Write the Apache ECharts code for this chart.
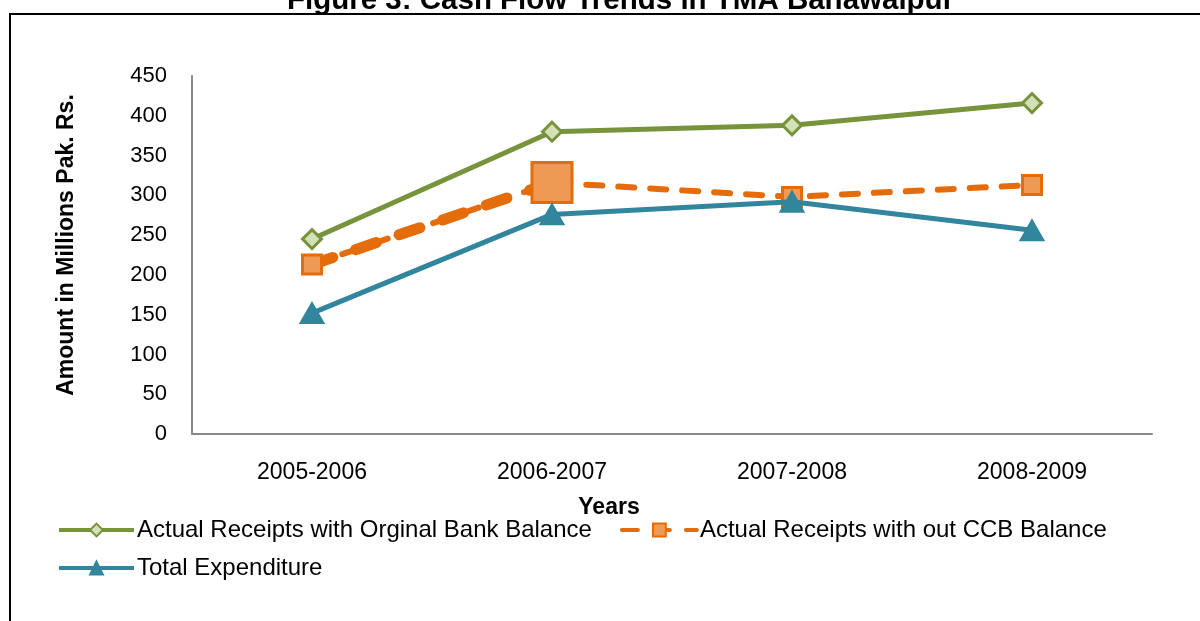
<!DOCTYPE html>
<html>
<head>
<meta charset="utf-8">
<script src="https://cdn.jsdelivr.net/npm/echarts@6/dist/echarts.min.js"></script>
<style>
  html, body { margin: 0; padding: 0; background: #fff; }
  #chart { width: 1200px; height: 621px; }
</style>
</head>
<body>
<div id="chart"></div>
<script>
// data
var years = ['2005-2006', '2006-2007', '2007-2008', '2008-2009'];
var receiptsOriginal = [245, 380, 388, 416];
var receiptsNoCCB = [213, 316, 298, 313];
var totalExpenditure = [152, 276, 292, 256];
var yTicks = [0, 50, 100, 150, 200, 250, 300, 350, 400, 450];

var green = '#77933C', orange = '#E46C0A', blue = '#31859C';
var font = 'Arial, "Liberation Sans", sans-serif';

var chart = echarts.init(document.getElementById('chart'));

// first segment of the dashed series is drawn heavier in the original
var firstSeg = receiptsNoCCB.map(function (v, i) { return i < 2 ? v : null; });

var option = {
  animation: false,
  textStyle: { fontFamily: font },
  title: {
    text: 'Figure 3: Cash Flow Trends in TMA Bahawalpur',
    left: 282,
    top: -19,
    textStyle: { fontSize: 29.5, fontWeight: 'bold', color: '#000', fontFamily: font }
  },
  graphic: [{
    type: 'rect',
    shape: { x: 10, y: 14, width: 1200, height: 620 },
    style: { fill: 'none', stroke: '#000', lineWidth: 2 },
    silent: true
  }],
  grid: { left: 192, right: 48, top: 76, bottom: 187 },
  legend: {
    left: 52,
    top: 510,
    width: 1100,
    itemWidth: 75,
    itemHeight: 16,
    itemGap: 8,
    lineStyle: { width: 4 },
    data: [
      { name: 'Actual Receipts with Orginal Bank Balance' },
      { name: 'Actual Receipts with out CCB Balance' },
      { name: 'Total Expenditure' }
    ],
    textStyle: { fontSize: 24, color: '#000', fontFamily: font, lineHeight: 30, padding: [0, 20, 0, -2] }
  },
  xAxis: {
    type: 'category',
    data: years,
    boundaryGap: true,
    name: 'Years',
    nameLocation: 'middle',
    nameGap: 62,
    nameTextStyle: { fontSize: 23, fontWeight: 'bold', color: '#000', padding: [0, 126, 0, 0] },
    axisLine: { lineStyle: { color: '#888', width: 2 } },
    axisTick: { show: false },
    axisLabel: { fontSize: 23, color: '#000', margin: 27 }
  },
  yAxis: {
    type: 'value',
    min: yTicks[0],
    max: yTicks[yTicks.length - 1],
    interval: 50,
    name: 'Amount in Millions Pak. Rs.',
    nameLocation: 'middle',
    nameGap: 114,
    nameRotate: 90,
    nameTextStyle: { fontSize: 23, fontWeight: 'bold', color: '#000', padding: [0, 0, 0, 20] },
    axisLine: { show: true, lineStyle: { color: '#888', width: 2 } },
    axisTick: { show: false },
    splitLine: { show: false },
    axisLabel: { fontSize: 22, color: '#000', margin: 25 }
  },
  series: [
    {
      name: 'Actual Receipts with Orginal Bank Balance',
      type: 'line',
      data: receiptsOriginal,
      color: green,
      symbol: 'diamond',
      symbolSize: 19,
      lineStyle: { color: green, width: 5 },
      itemStyle: { color: '#D3E0B8', borderColor: green, borderWidth: 3 },
      z: 3
    },
    {
      name: 'Actual Receipts with out CCB Balance',
      type: 'line',
      data: receiptsNoCCB.map(function (v, i) {
        return i === 1 ? { value: v, symbolSize: 40 } : v;
      }),
      color: orange,
      symbol: 'rect',
      symbolSize: 19,
      lineStyle: { color: orange, width: 6, type: [16, 16], cap: 'round' },
      itemStyle: { color: '#EE9A55', borderColor: orange, borderWidth: 3 },
      z: 4
    },
    {
      name: 'Actual Receipts with out CCB Balance',
      type: 'line',
      data: firstSeg,
      symbol: 'none',
      lineStyle: { color: orange, width: 11, type: [22, 24], cap: 'round' },
      legendHoverLink: false,
      z: 2
    },
    {
      name: 'Total Expenditure',
      type: 'line',
      data: totalExpenditure,
      color: blue,
      symbol: 'triangle',
      symbolSize: [23, 20],
      lineStyle: { color: blue, width: 5 },
      itemStyle: { color: blue, borderColor: blue, borderWidth: 2 },
      z: 5
    }
  ]
};

chart.setOption(option);
</script>
</body>
</html>
